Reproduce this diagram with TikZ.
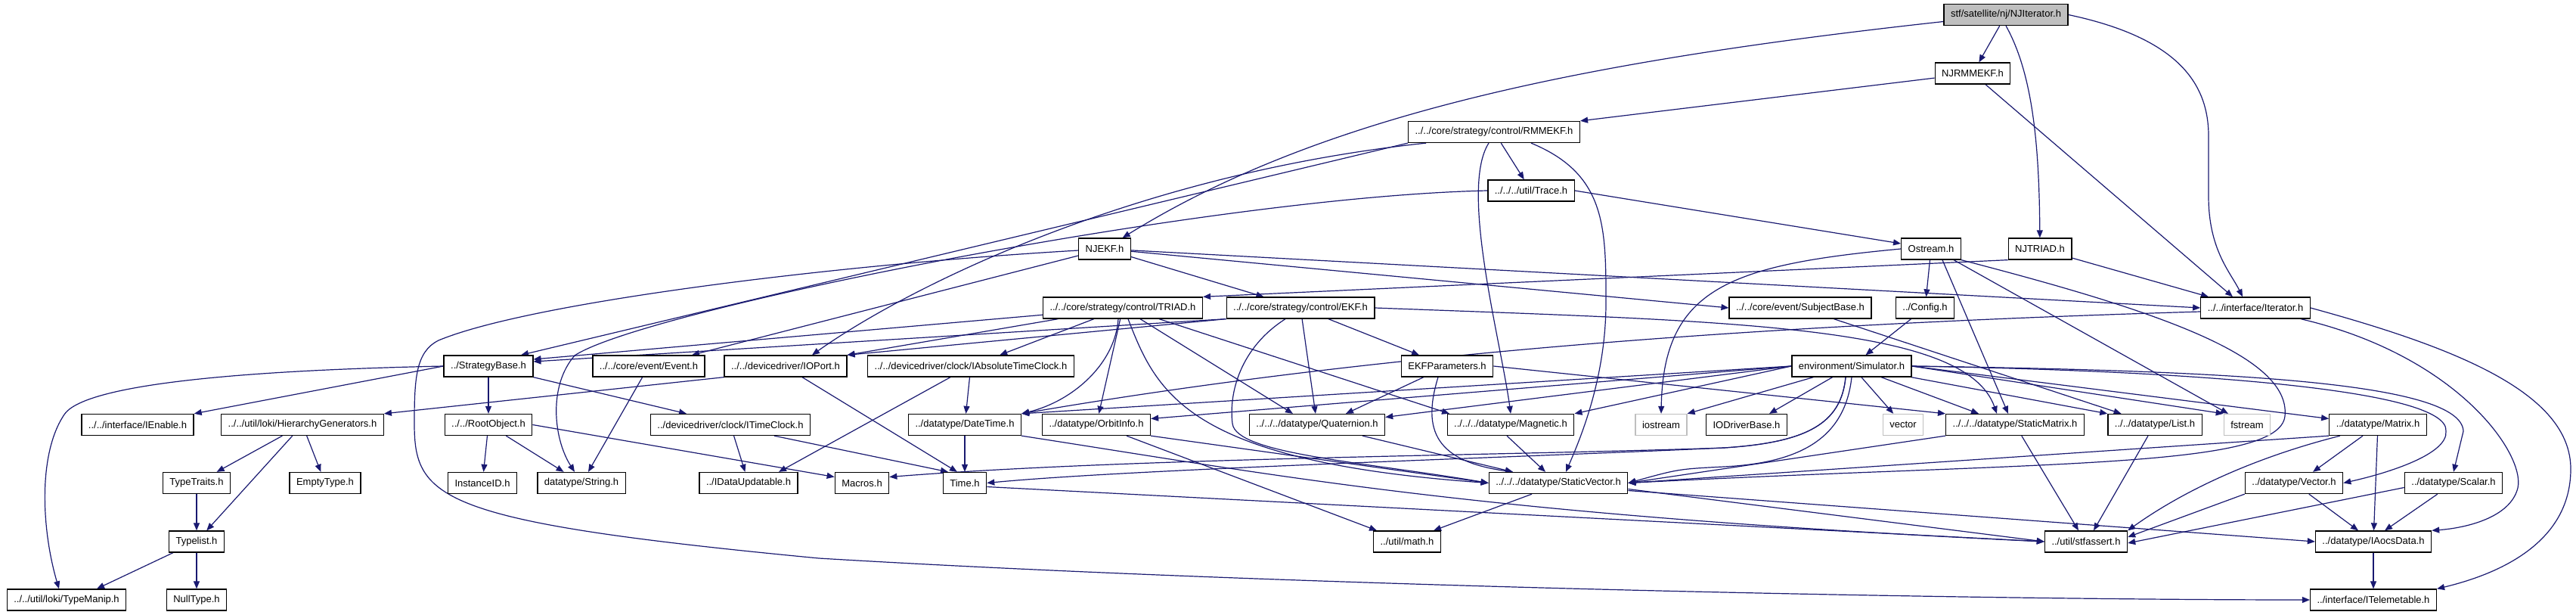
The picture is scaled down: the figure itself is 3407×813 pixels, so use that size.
\documentclass[tikz,border=0pt]{standalone}
\usepackage{fontspec}
\setmainfont{Liberation Sans}
\usetikzlibrary{arrows.meta,calc}
\definecolor{edgeblue}{HTML}{191970}
\definecolor{sysgray}{HTML}{BFBFBF}
\pgfdeclarelayer{bg}
\pgfsetlayers{bg,main}

\begin{document}
\begin{tikzpicture}[x=1pt, y=-1pt,
  hdr/.style={draw=black, line width=1.3pt, fill=white, minimum height=28pt,
    inner xsep=9pt, inner ysep=0pt, font=\fontsize{13}{15}\selectfont},
  rootfile/.style={hdr, fill=sysgray},
  sysfile/.style={hdr, draw=sysgray},
  dep/.style={draw=edgeblue, line width=1.2pt, -{Triangle[length=10pt,width=8pt]}}]
  \useasboundingbox (0,0) rectangle (3407,813);

  % headers, row by row
  \node[rootfile] (njit) at (2653,19.5) {stf/satellite/nj/NJIterator.h};
  \node[hdr] (njrmm) at (2609,97) {NJRMMEKF.h};
  \node[hdr] (rmm) at (1976,174.5) {../../core/strategy/control/RMMEKF.h};
  \node[hdr] (trace) at (2025,252) {../../../util/Trace.h};
  \node[hdr] (njekf) at (1461,329) {NJEKF.h};
  \node[hdr] (ostream) at (2554,329) {Ostream.h};
  \node[hdr] (njtriad) at (2698,329) {NJTRIAD.h};
  \node[hdr] (triad) at (1485,407) {../../core/strategy/control/TRIAD.h};
  \node[hdr] (ekf) at (1720,407) {../../core/strategy/control/EKF.h};
  \node[hdr] (subject) at (2381,407) {../../core/event/SubjectBase.h};
  \node[hdr] (config) at (2546,407) {../Config.h};
  \node[hdr] (iter) at (2983,407) {../../interface/Iterator.h};
  \node[hdr] (strat) at (646,484) {../StrategyBase.h};
  \node[hdr] (event) at (858,484) {../../core/event/Event.h};
  \node[hdr] (ioport) at (1039,484) {../../devicedriver/IOPort.h};
  \node[hdr] (iabs) at (1284,484) {../../devicedriver/clock/IAbsoluteTimeClock.h};
  \node[hdr] (ekfp) at (1914,484) {EKFParameters.h};
  \node[hdr] (sim) at (2449,484) {environment/Simulator.h};
  \node[hdr] (ienable) at (182,561.5) {../../interface/IEnable.h};
  \node[hdr] (hier) at (400,561.5) {../../util/loki/HierarchyGenerators.h};
  \node[hdr] (root) at (646,561.5) {../../RootObject.h};
  \node[hdr] (itime) at (966,561.5) {../devicedriver/clock/ITimeClock.h};
  \node[hdr] (datetime) at (1276,561.5) {../datatype/DateTime.h};
  \node[hdr] (orbit) at (1450,561.5) {../datatype/OrbitInfo.h};
  \node[hdr] (quat) at (1742,561.5) {../../../datatype/Quaternion.h};
  \node[hdr] (magnetic) at (1998,561.5) {../../../datatype/Magnetic.h};
  \node[sysfile] (iostream) at (2197,561.5) {iostream};
  \node[hdr] (iodrv) at (2310,561.5) {IODriverBase.h};
  \node[sysfile] (vector) at (2517,561.5) {vector};
  \node[hdr] (smatrix) at (2665,561.5) {../../../datatype/StaticMatrix.h};
  \node[hdr] (list) at (2850,561.5) {../../datatype/List.h};
  \node[sysfile] (fstream) at (2972,561.5) {fstream};
  \node[hdr] (matrix) at (3145,561.5) {../datatype/Matrix.h};
  \node[hdr] (typetraits) at (260,638.5) {TypeTraits.h};
  \node[hdr] (empty) at (430,638.5) {EmptyType.h};
  \node[hdr] (instid) at (638,638.5) {InstanceID.h};
  \node[hdr] (string) at (769,638.5) {datatype/String.h};
  \node[hdr] (idata) at (990,638.5) {../IDataUpdatable.h};
  \node[hdr] (macros) at (1140,638.5) {Macros.h};
  \node[hdr] (time) at (1276,638.5) {Time.h};
  \node[hdr] (svector) at (2061,638.5) {../../../datatype/StaticVector.h};
  \node[hdr] (vec) at (3034,638.5) {../datatype/Vector.h};
  \node[hdr] (scalar) at (3245,638.5) {../datatype/Scalar.h};
  \node[hdr] (typelist) at (260,716) {Typelist.h};
  \node[hdr] (math) at (1861,716) {../util/math.h};
  \node[hdr] (stfassert) at (2759,716) {../util/stfassert.h};
  \node[hdr] (iaocs) at (3139,716) {../datatype/IAocsData.h};
  \node[hdr] (typemanip) at (88,793) {../../util/loki/TypeManip.h};
  \node[hdr] (nulltype) at (260,793) {NullType.h};
  \node[hdr] (itelem) at (3139,793) {../interface/ITelemetable.h};

  \begin{pgfonlayer}{bg}
  % includes of the nj files
  \draw[dep] (njit) -- (njrmm);
  \draw[dep] (njit.south) .. controls (2690,100) and (2697,200) .. (njtriad);
  \draw[dep] (njit) .. controls (2100,80) and (1750,150) .. (njekf);
  \draw[dep] (njit.east) .. controls (2880,50) and (2921,110) .. (2921,180) -- (2921,260) .. controls (2921,330) and (2950,360) .. ([xshift=-17pt]iter.north);
  \draw[dep] (njrmm) -- (rmm.north east);
  \draw[dep] (njrmm) -- ([xshift=-30pt]iter.north);
  \draw[dep] (njtriad.south west) -- (triad.north east);
  \draw[dep] (njtriad) -- ([xshift=-62pt]iter.north);
  \draw[dep] (njekf) -- (ekf);
  \draw[dep] (njekf) -- (iter.west);
  \draw[dep] (njekf) -- (subject.west);
  \draw[dep] (njekf) -- ([xshift=57pt]event.north);
  \draw[dep] (njekf) .. controls (1100,350) and (700,400) .. (580,450) .. controls (550,465) and (548,500) .. (548,560) .. controls (548,660) and (580,690) .. (1083,738) .. controls (1700,775) and (2600,793) .. (itelem.west);

  % strategies
  \draw[dep] (rmm) -- (trace);
  \draw[dep] (rmm.south west) -- ([xshift=43pt]strat.north);
  \draw[dep] ([xshift=-90pt]rmm.south) .. controls (1500,230) and (1200,380) .. ([xshift=35pt]ioport.north);
  \draw[dep] ([xshift=-7pt]rmm.south) .. controls (1930,250) and (1985,450) .. (magnetic.north);
  \draw[dep] ([xshift=49pt]rmm.south) .. controls (2124,230) and (2124,300) .. (2124,400) .. controls (2124,500) and (2090,580) .. ([xshift=10pt]svector.north);
  \draw[dep] (trace.east) -- ($(ostream.west)+(0,-7)$);
  \draw[dep] (trace.west) .. controls (1600,260) and (850,410) .. (760,470) .. controls (725,510) and (732,580) .. ([xshift=-9pt]string.north);
  \draw[dep] (triad) -- ($(strat.east)+(0,-9)$);
  \draw[dep] (triad) -- (ioport.north east);
  \draw[dep] (triad) -- (iabs);
  \draw[dep] ([xshift=-6pt]triad.south) .. controls (1475,480) and (1420,530) .. (datetime.north east);
  \draw[dep] (triad) -- (orbit);
  \draw[dep] ([xshift=23pt]triad.south) -- ([xshift=-32pt]quat.north);
  \draw[dep] ([xshift=48pt]triad.south) -- ([xshift=-81pt]magnetic.north);
  \draw[dep] ([xshift=7pt]triad.south) .. controls (1530,520) and (1570,610) .. (svector.west);
  \draw[dep] (ekf.south west) -- ($(strat.east)+(0,-6)$);
  \draw[dep] (ekf.south west) -- (ioport.north east);
  \draw[dep] (ekf) -- (ekfp);
  \draw[dep] (ekf) -- (quat);
  \draw[dep] (ekf.east) .. controls (2300,425) and (2600,430) .. ([xshift=-24pt]smatrix.north);
  \draw[dep] ([xshift=-20pt]ekf.south) .. controls (1640,460) and (1625,520) .. (1630,560) .. controls (1635,600) and (1800,610) .. (svector.west);
  \draw[dep] (ekfp) -- ([xshift=38pt]quat.north);
  \draw[dep] ([xshift=-12pt]ekfp.south) .. controls (1880,570) and (1900,610) .. ([xshift=-60pt]svector.north);
  \draw[dep] (ekfp.east) -- (smatrix.north west);
  \draw[dep] ([xshift=60pt]quat.south) -- ([xshift=-60pt]svector.north);
  \draw[dep] ([xshift=-5pt]magnetic.south) -- ([xshift=-17pt]svector.north);

  % streams and events
  \draw[dep] (ostream) -- (config);
  \draw[dep] (ostream.west) .. controls (2290,350) and (2200,380) .. (iostream.north);
  \draw[dep] ([xshift=15pt]ostream.south) -- ([xshift=-9pt]smatrix.north);
  \draw[dep] ([xshift=30pt]ostream.south) -- ([xshift=-25pt]fstream.north);
  \draw[dep] (ostream.south east) .. controls (2850,410) and (3030,470) .. (3022,550) .. controls (3015,620) and (2700,610) .. (svector.east);
  \draw[dep] (config) -- (sim);
  \draw[dep] (subject) -- (list);
  \draw[dep] ($(iter.west)+(0,5)$) .. controls (2300,430) and (1800,470) .. (datetime.north east);
  \draw[dep] ([xshift=60pt]iter.south) .. controls (3250,470) and (3340,600) .. (3330,645) .. controls (3320,685) and (3260,698) .. (iaocs.north east);
  \draw[dep] (iter.east) .. controls (3250,460) and (3400,520) .. (3400,620) .. controls (3400,720) and (3300,760) .. (itelem.north east);

  % base classes and devices
  \draw[dep] (strat.west) -- (ienable.north east);
  \draw[dep] (strat.west) .. controls (300,490) and (110,510) .. (85,548) .. controls (50,600) and (55,700) .. ([xshift=-10pt]typemanip.north);
  \draw[dep] (strat) -- (root);
  \draw[dep] (strat.south east) -- ([xshift=-58pt]itime.north);
  \draw[dep] (ioport.south west) -- (hier.north east);
  \draw[dep] ([xshift=22pt]ioport.south) -- ([xshift=-10pt]time.north);
  \draw[dep] (iabs) -- (datetime);
  \draw[dep] ([xshift=-27pt]iabs.south) -- ([xshift=40pt]idata.north);
  \draw[dep] (itime) -- (idata);
  \draw[dep] ([xshift=58pt]itime.south) -- ([xshift=-22pt]time.north);
  \draw[dep] (datetime) -- (time);
  \draw[dep] (datetime.south east) .. controls (1700,630) and (1950,680) .. (stfassert.west);
  \draw[dep] (orbit.south east) -- (svector.west);
  \draw[dep] ([xshift=40pt]orbit.south) -- ([xshift=-40pt]math.north);
  \draw[dep] ($(time.east)+(0,5)$) -- (stfassert.west);
  \draw[dep] (root) -- (instid);
  \draw[dep] (root) -- (string);
  \draw[dep] (root.east) -- ($(macros.west)+(0,-8)$);
  \draw[dep] (event) -- ([xshift=9pt]string.north);
  \draw[dep] (hier) -- (typetraits);
  \draw[dep] (hier) -- (typelist);
  \draw[dep] (hier) -- (empty);
  \draw[dep] (typetraits) -- (typelist);
  \draw[dep] (typelist) -- ([xshift=40pt]typemanip.north);
  \draw[dep] (typelist) -- (nulltype);

  % simulator
  \draw[dep] (sim) -- (iostream.north east);
  \draw[dep] (sim) -- ([xshift=30pt]iodrv.north);
  \draw[dep] (sim) -- (vector);
  \draw[dep] (sim) -- ([xshift=-48pt]smatrix.north);
  \draw[dep] (sim) -- (list.north west);
  \draw[dep] (sim.east) -- (fstream.north west);
  \draw[dep] (sim.east) -- ($(matrix.west)+(0,-8)$);
  \draw[dep] (sim.east) .. controls (2900,490) and (3240,515) .. (3235,570) .. controls (3238,600) and (3160,625) .. (vec.east);
  \draw[dep] (sim.east) .. controls (2950,490) and (3255,505) .. (3258,570) -- (scalar.north);
  \draw[dep] (sim.west) -- ($(quat.east)+(0,-10)$);
  \draw[dep] (sim.west) -- (magnetic.north east);
  \draw[dep] (sim.west) -- ($(orbit.east)+(0,-8)$);
  \draw[dep] (sim.west) -- (datetime.north east);
  \draw[dep] ([xshift=-8pt]sim.south) .. controls (2435,560) and (2390,585) .. (2280,592) .. controls (2000,605) and (1500,620) .. (time.east);
  \draw[dep] ([xshift=-8pt]sim.south) .. controls (2435,560) and (2390,585) .. (2280,592) .. controls (2000,602) and (1500,605) .. ($(macros.east)+(0,-8)$);
  \draw[dep] (sim.south) .. controls (2440,580) and (2380,612) .. (2280,617) .. controls (2220,620) .. (svector.east);

  % data types
  \draw[dep] (smatrix.south west) -- (svector.east);
  \draw[dep] (smatrix) -- ([xshift=-10pt]stfassert.north);
  \draw[dep] ([xshift=-9pt]list.south) -- ([xshift=10pt]stfassert.north);
  \draw[dep] ([xshift=-20pt]matrix.south) -- ([xshift=25pt]vec.north);
  \draw[dep] (matrix) -- (iaocs);
  \draw[dep] ([xshift=-50pt]matrix.south) .. controls (3000,600) and (2900,640) .. (stfassert.north east);
  \draw[dep] (matrix.south west) -- (svector.east);
  \draw[dep] (vec) -- ([xshift=-20pt]iaocs.north);
  \draw[dep] (vec.south west) -- ($(stfassert.east)+(0,-6)$);
  \draw[dep] (scalar) -- ([xshift=15pt]iaocs.north);
  \draw[dep] ($(scalar.west)+(0,6)$) -- ($(stfassert.east)+(0,2)$);
  \draw[dep] ([xshift=-35pt]svector.south) -- ([xshift=35pt]math.north);
  \draw[dep] ($(svector.east)+(0,8)$) -- (stfassert.west);
  \draw[dep] ($(svector.east)+(0,10)$) -- (iaocs.west);
  \draw[dep] (iaocs) -- (itelem);
  \end{pgfonlayer}
\end{tikzpicture}
\end{document}
